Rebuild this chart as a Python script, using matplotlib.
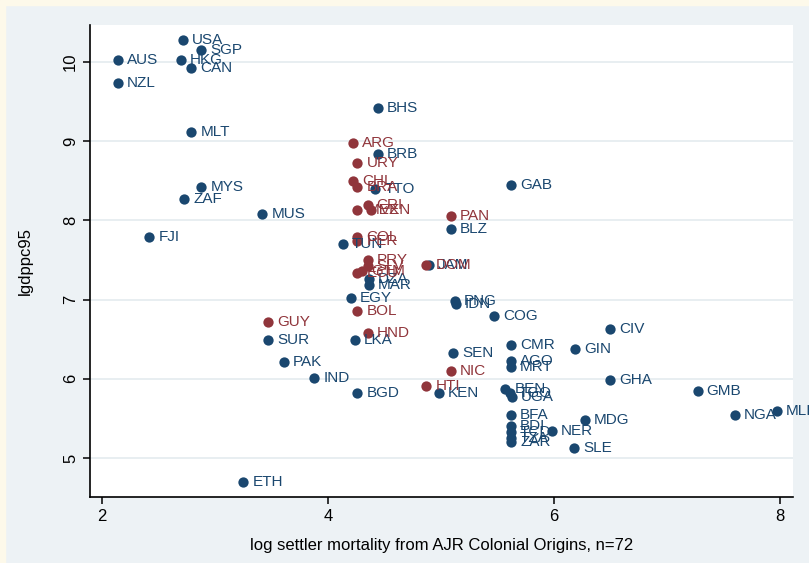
import matplotlib.pyplot as plt
from matplotlib.patches import Rectangle

# country codes, log settler mortality, log gdp per capita 1995, region group
codes = ["USA", "SGP", "HKG", "CAN", "AUS", "NZL", "MLT", "MYS", "ZAF", "MUS",
         "FJI", "BHS", "BRB", "TTO", "GAB", "BLZ", "TUN", "DZA", "JAM", "MAR",
         "EGY", "PNG", "IDN", "COG", "SUR", "LKA", "PAK", "IND", "BGD", "KEN",
         "SEN", "CIV", "CMR", "GIN", "AGO", "MRT", "GHA", "GMB", "NGA", "MLI",
         "BEN", "TGO", "UGA", "BFA", "BDI", "TCD", "ZAR", "TZA", "NER", "MDG",
         "SLE", "ETH"]
mort = [2.72, 2.88, 2.70, 2.79, 2.14, 2.14, 2.79, 2.88, 2.73, 3.42,
        2.42, 4.44, 4.44, 4.42, 5.62, 5.09, 4.13, 4.36, 4.89, 4.36,
        4.20, 5.12, 5.13, 5.47, 3.47, 4.24, 3.61, 3.88, 4.26, 4.98,
        5.11, 6.50, 5.62, 6.19, 5.62, 5.62, 6.50, 7.27, 7.60, 7.97,
        5.57, 5.61, 5.63, 5.62, 5.62, 5.62, 5.62, 5.62, 5.98, 6.27,
        6.18, 3.25]
gdp = [10.28, 10.15, 10.02, 9.93, 10.02, 9.73, 9.12, 8.42, 8.27, 8.08,
       7.79, 9.42, 8.84, 8.40, 8.45, 7.89, 7.70, 7.26, 7.44, 7.19,
       7.02, 6.98, 6.95, 6.79, 6.49, 6.49, 6.21, 6.01, 5.82, 5.82,
       6.33, 6.63, 6.43, 6.38, 6.22, 6.15, 5.98, 5.85, 5.54, 5.59,
       5.87, 5.82, 5.77, 5.54, 5.40, 5.33, 5.20, 5.25, 5.34, 5.48,
       5.13, 4.70]

# Latin America / Caribbean
codes_la = ["ARG", "URY", "CHL", "BRA", "CRI", "VEN", "MEX", "PAN", "COL", "PER",
            "PRY", "SLV", "ECU", "GTM", "DOM", "BOL", "GUY", "HND", "NIC", "HTI"]
mort_la = [4.22, 4.26, 4.22, 4.26, 4.35, 4.38, 4.26, 5.09, 4.26, 4.26,
           4.35, 4.35, 4.26, 4.30, 4.87, 4.26, 3.47, 4.35, 5.09, 4.87]
gdp_la = [8.98, 8.72, 8.50, 8.42, 8.20, 8.13, 8.13, 8.06, 7.79, 7.74,
          7.50, 7.42, 7.33, 7.36, 7.44, 6.86, 6.72, 6.58, 6.10, 5.91]

blue = "#1a476f"
red = "#90353b"
fam = ["Liberation Sans Narrow", "Liberation Sans", "DejaVu Sans"]

fig = plt.figure(figsize=(8.09, 5.63), dpi=100, facecolor="#edf2f5")
# cream strip along top and left edge
fig.patches.append(Rectangle((0, 1 - 5 / 563), 1, 5 / 563, transform=fig.transFigure,
                             color="#fdf9ea", zorder=0))
fig.patches.append(Rectangle((0, 0), 5 / 809, 1, transform=fig.transFigure,
                             color="#fdf9ea", zorder=0))

ax = fig.add_axes([90 / 809, 66 / 563, 703 / 809, 472 / 563])
ax.set_facecolor("white")

for xs, ys, labs, col in [(mort, gdp, codes, blue), (mort_la, gdp_la, codes_la, red)]:
    ax.scatter(xs, ys, s=55, color=col, zorder=3, linewidths=0)
    for x, y, t in zip(xs, ys, labs):
        ax.annotate(t, (x, y), xytext=(6.5, 0), textcoords="offset points",
                    ha="left", va="center", color=col, fontsize=11,
                    family=fam, zorder=4, annotation_clip=False)

ax.set_xlim(1.894, 8.115)
ax.set_ylim(4.508, 10.467)
ax.set_xticks([2, 4, 6, 8])
ax.set_yticks([5, 6, 7, 8, 9, 10])
ax.yaxis.grid(True, color="#e6edf0", linewidth=1.3)
ax.set_axisbelow(True)
for s in ["top", "right"]:
    ax.spines[s].set_visible(False)
ax.spines["left"].set_linewidth(1.2)
ax.spines["bottom"].set_linewidth(1.2)
ax.tick_params(direction="out", length=5, width=1.1, labelsize=12)
for lab in ax.get_yticklabels():
    lab.set_rotation(90)
    lab.set_va("center")
for lab in ax.get_xticklabels() + ax.get_yticklabels():
    lab.set_family(fam)

ax.set_xlabel("log settler mortality from AJR Colonial Origins, n=72",
              fontsize=12, family=fam, labelpad=10)
ax.set_ylabel("lgdppc95", fontsize=12, family=fam, labelpad=22)

fig.savefig("out.png", dpi=100, facecolor=fig.get_facecolor())
